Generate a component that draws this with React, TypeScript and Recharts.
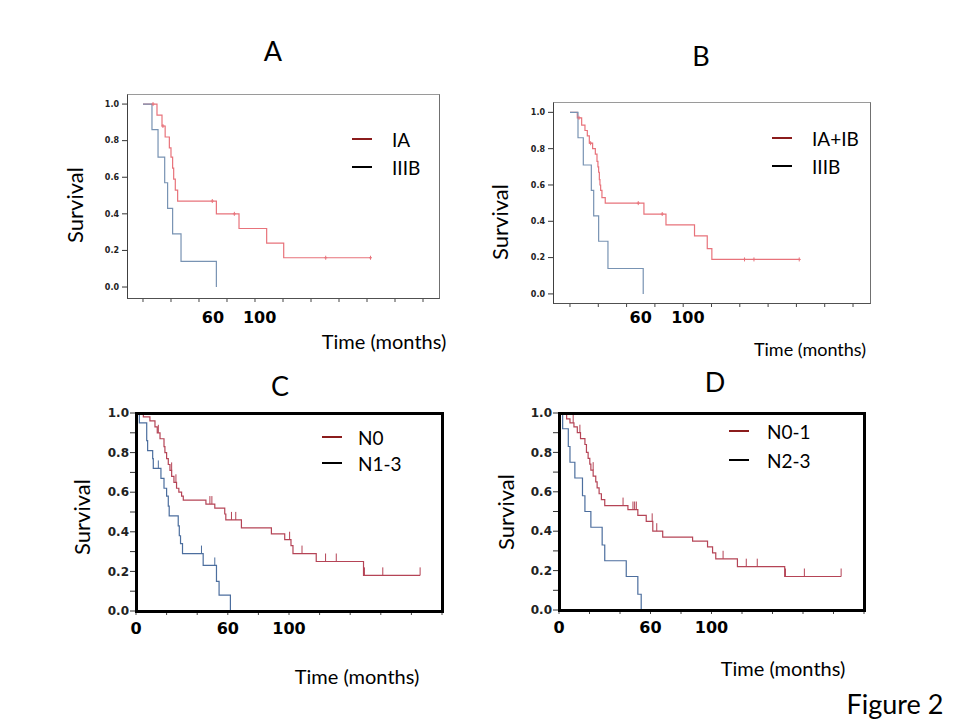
import React from 'react'
import { ComposedChart, Line, Scatter, XAxis, YAxis } from 'recharts'

// ---- Panel A: IA vs IIIB (months / survival) ----
const aIaTime = [0, 12, 16.3, 19, 22.6, 24, 25.4, 26.3, 27.7, 29.7, 62.9, 82.3, 106, 120.6, 195]
const aIaSurv = [1, 0.94, 0.88, 0.82, 0.76, 0.71, 0.65, 0.59, 0.53, 0.47, 0.4, 0.32, 0.24, 0.16, 0.16]
const aIaCensTime = [8.6, 17.1, 59.4, 78.3, 156.6, 195]
const aIaCensSurv = [1, 0.88, 0.47, 0.4, 0.16, 0.16]
const aIIIBTime = [0, 7.7, 12.9, 18.6, 21.1, 25.4, 32.6, 62.9]
const aIIIBSurv = [1, 0.86, 0.71, 0.57, 0.43, 0.29, 0.14, 0]

// ---- Panel B: IA+IB vs IIIB ----
const bIaIbTime = [0, 6.2, 9.9, 12.7, 14.7, 16.4, 19.2, 21.5, 22.9, 23.7, 24.3, 24.9, 25.4, 26, 27.1, 29.9, 62.7, 81.4, 105.6, 116.4, 120.3, 194.4]
const bIaIbSurv = [1, 0.97, 0.93, 0.9, 0.87, 0.83, 0.8, 0.77, 0.73, 0.7, 0.67, 0.63, 0.6, 0.57, 0.53, 0.5, 0.44, 0.38, 0.32, 0.25, 0.19, 0.19]
const bIaIbCensTime = [7.6, 17.5, 57.9, 78.2, 148, 156, 194.4]
const bIaIbCensSurv = [0.97, 0.83, 0.5, 0.44, 0.19, 0.19, 0.19]
const bIIIBTime = [0, 6.8, 11.3, 18.1, 20.1, 24.3, 32.2, 62.1]
const bIIIBSurv = [1, 0.86, 0.71, 0.57, 0.43, 0.29, 0.14, 0]

// ---- Panel C: N0 vs N1-3 ----
const cN0Time = [0, 4.8, 9.1, 12.4, 13.9, 15.7, 18.3, 18.9, 20, 21.1, 22.2, 23.3, 24.8, 26.5, 28, 29.8, 30.9, 45.7, 51.5, 58, 58.7, 68.9, 88.5, 97.2, 101.3, 102.6, 117.8, 148.7, 185.7]
const cN0Surv = [1, 0.98, 0.96, 0.93, 0.9, 0.87, 0.83, 0.8, 0.77, 0.74, 0.71, 0.68, 0.65, 0.62, 0.6, 0.58, 0.56, 0.54, 0.52, 0.49, 0.46, 0.42, 0.39, 0.36, 0.33, 0.29, 0.25, 0.18, 0.18]
const cN0CensTime = [2.6, 4.3, 14.6, 23.3, 26.1, 48.3, 49.6, 62.4, 65.2, 100.4, 108.5, 123.9, 130.9, 149.3, 161.3, 185.7]
const cN0CensSurv = [1, 1, 0.9, 0.71, 0.65, 0.54, 0.54, 0.46, 0.46, 0.36, 0.29, 0.25, 0.25, 0.18, 0.18, 0.18]
const cN13Time = [0, 2.2, 7, 7.6, 10.9, 11.3, 16.3, 18.3, 20, 21.1, 21.7, 27.6, 28.3, 29.1, 30.4, 43.9, 52.6, 54.3, 61.7]
const cN13Surv = [1, 0.95, 0.86, 0.81, 0.77, 0.72, 0.67, 0.62, 0.58, 0.53, 0.48, 0.43, 0.38, 0.34, 0.29, 0.23, 0.15, 0.08, 0]
const cN13CensTime = [14.6, 42.8, 51.5]
const cN13CensSurv = [0.72, 0.29, 0.23]

// ---- Panel D: N0-1 vs N2-3 ----
const dN01Time = [0, 5, 7.2, 9.8, 12, 14.1, 17, 18, 19.1, 20.2, 20.9, 22.4, 24.1, 25, 26.3, 27.8, 30, 45.2, 51.7, 57.2, 61.5, 68, 87.6, 97.4, 100.7, 102.8, 117, 148, 185]
const dN01Surv = [1, 0.97, 0.95, 0.93, 0.9, 0.87, 0.84, 0.8, 0.77, 0.74, 0.71, 0.68, 0.65, 0.62, 0.59, 0.56, 0.53, 0.51, 0.48, 0.45, 0.4, 0.37, 0.35, 0.32, 0.29, 0.26, 0.22, 0.17, 0.17]
const dN01CensTime = [2.2, 9.3, 13.7, 22.4, 42, 48.5, 49.6, 50.7, 61.1, 64.1, 107.6, 122.8, 130, 148.5, 160.9, 185]
const dN01CensSurv = [1, 0.95, 0.9, 0.71, 0.53, 0.51, 0.51, 0.51, 0.45, 0.4, 0.26, 0.22, 0.22, 0.17, 0.17, 0.17]
const dN23Time = [0, 2.4, 6.1, 7.2, 10.4, 15.4, 17, 20.9, 28.3, 30, 44.1, 51.7, 53.9]
const dN23Surv = [1, 0.92, 0.83, 0.75, 0.67, 0.58, 0.5, 0.42, 0.33, 0.25, 0.17, 0.08, 0]

// axis ticks
const ticks24 = [0, 24, 48, 72, 96, 120, 144, 168, 192, 216, 240]
const ticks20 = [0, 20, 40, 60, 80, 100, 120, 140, 160, 180, 200]
const survTicksMajor = [0, 0.2, 0.4, 0.6, 0.8, 1]
const survTicksMinor = [0, 0.1, 0.2, 0.3, 0.4, 0.5, 0.6, 0.7, 0.8, 0.9, 1]
const timeLabelsAB = [60, 100]
const timeLabelsCD = [0, 60, 100]

const FONT = 'Lato, "Open Sans", sans-serif'
const TICK_FONT = '"DejaVu Sans", Verdana, sans-serif'

const RED_LIGHT = '#e8737b'
const BLUE_LIGHT = '#7893b3'
const RED_DARK = '#b54456'
const BLUE_DARK = '#4c6e9e'
const KEY_RED = '#8b1c1c'

type Pt = { t: number; s: number }
const toPts = (t: number[], s: number[]): Pt[] => t.map((x, i) => ({ t: x, s: s[i] }))

interface Curve {
  pts: Pt[]
  cens: Pt[]
  color: string
}

interface PanelProps {
  frame: { l: number; t: number; r: number; b: number }
  xDomain: [number, number]
  xTicks: number[]
  xLabels: number[]
  labelDy: number
  labelSize: number
  yDomain: [number, number]
  yTicks: number[]
  ySize: number
  heavy: boolean
  curves: Curve[]
}

const Y_W = 45
const PAD = 10
const X_H = 34

function Key({ keys, x, y, row, gap }: { keys: { name: string; color: string }[]; x: number; y: number; row: number; gap: number }) {
  return (
    <div style={{ position: 'absolute', left: x, top: y - row / 2, fontFamily: FONT, fontSize: 19, color: '#000' }}>
      {keys.map((k) => (
        <div key={k.name} style={{ display: 'flex', alignItems: 'center', height: row, whiteSpace: 'nowrap' }}>
          <span style={{ display: 'inline-block', width: 20, height: 2, background: k.color, marginRight: gap }} />
          <span>{k.name}</span>
        </div>
      ))}
    </div>
  )
}

function Panel(p: PanelProps) {
  const fw = p.frame.r - p.frame.l
  const fh = p.frame.b - p.frame.t
  const width = Y_W + fw + PAD
  const height = PAD + fh + X_H
  const left = p.frame.l - Y_W
  const top = p.frame.t - PAD

  const allTicks = Array.from(new Set([...p.xTicks, ...p.xLabels])).sort((a, b) => a - b)

  const yFmt = (v: number) => {
    const tenth = Math.round(v * 10)
    return tenth % 2 === 0 ? v.toFixed(1) : ''
  }

  // bottom axis: short tick marks on the grid values, bold text on the labelled values
  const XTick = (props: any) => {
    const { x, y, payload } = props
    const v = payload.value
    return (
      <g>
        {p.xTicks.includes(v) && (
          <line x1={x} x2={x} y1={y} y2={y + 4} stroke="#444" strokeWidth={1} />
        )}
        {p.xLabels.includes(v) && (
          <text
            x={x}
            y={y + p.labelDy}
            textAnchor="middle"
            dominantBaseline="central"
            fontSize={p.labelSize}
            fontWeight={700}
            fontFamily={TICK_FONT}
            fill="#000"
          >
            {v}
          </text>
        )}
      </g>
    )
  }

  const censorShape = (color: string) => (props: any) => {
    const { cx, cy } = props
    if (p.heavy) {
      return <line x1={cx} x2={cx} y1={cy} y2={cy - 8} stroke={color} strokeWidth={1} />
    }
    return (
      <g stroke={color} strokeWidth={1}>
        <line x1={cx} x2={cx} y1={cy - 2} y2={cy + 2} />
        <line x1={cx - 1.5} x2={cx + 1.5} y1={cy} y2={cy} />
      </g>
    )
  }

  // plot frame (box around the plotting area)
  const bw = p.heavy ? 3 : 1
  const frameStyle: React.CSSProperties = {
    position: 'absolute',
    left: p.frame.l - bw / 2,
    top: p.frame.t - bw / 2,
    width: fw + bw,
    height: fh + bw,
    boxSizing: 'border-box',
    borderStyle: 'solid',
    borderWidth: bw,
    borderColor: p.heavy ? '#000' : '#9a9a9a #707070 #505050 #404040',
    pointerEvents: 'none',
  }

  return (
    <>
      <div style={{ position: 'absolute', left, top, width, height }}>
        <ComposedChart width={width} height={height} margin={{ top: PAD, right: PAD, left: 0, bottom: 0 }}>
          <XAxis
            xAxisId="m"
            dataKey="t"
            type="number"
            domain={p.xDomain}
            allowDataOverflow
            ticks={allTicks}
            interval={0}
            tick={<XTick />}
            tickSize={0}
            tickMargin={0}
            tickLine={false}
            height={X_H}
            axisLine={false}
          />
          <YAxis
            yAxisId="y"
            type="number"
            domain={p.yDomain}
            allowDataOverflow
            ticks={p.yTicks}
            interval={0}
            width={Y_W}
            tickSize={p.heavy ? 6 : 5}
            tickMargin={p.heavy ? 1 : 3}
            tickFormatter={yFmt}
            axisLine={false}
            tickLine={{ stroke: '#333', strokeWidth: 1 }}
            tick={{ fontSize: p.ySize, fontWeight: 700, fill: '#222', fontFamily: TICK_FONT }}
          />
          {p.curves.map((c, i) => (
            <Line
              key={`l${i}`}
              xAxisId="m"
              yAxisId="y"
              data={c.pts}
              dataKey="s"
              type="stepAfter"
              stroke={c.color}
              strokeWidth={1.2}
              dot={false}
              activeDot={false}
              isAnimationActive={false}
            />
          ))}
          {p.curves
            .filter((c) => c.cens.length > 0)
            .map((c, i) => (
              <Scatter
                key={`c${i}`}
                xAxisId="m"
                yAxisId="y"
                data={c.cens}
                dataKey="s"
                shape={censorShape(c.color)}
                isAnimationActive={false}
              />
            ))}
        </ComposedChart>
      </div>
      <div style={frameStyle} />
    </>
  )
}

function Txt({ x, y, size, children, rotate }: { x: number; y: number; size: number; children: React.ReactNode; rotate?: boolean }) {
  return (
    <div
      style={{
        position: 'absolute',
        left: x,
        top: y,
        transform: `translate(-50%, -50%)${rotate ? ' rotate(-90deg)' : ''}`,
        fontFamily: FONT,
        fontSize: size,
        color: '#000',
        whiteSpace: 'nowrap',
        lineHeight: 1,
      }}
    >
      {children}
    </div>
  )
}

export default function App() {
  return (
    <div style={{ position: 'absolute', left: 0, top: 0, width: 960, height: 720, background: '#fff', overflow: 'hidden' }}>
      <Panel
        frame={{ l: 127, t: 94, r: 439, b: 298 }}
        xDomain={[-13.7, 253.7]}
        xTicks={ticks24}
        xLabels={timeLabelsAB}
        labelDy={19}
        labelSize={16}
        yDomain={[-0.06, 1.055]}
        yTicks={survTicksMajor}
        ySize={8}
        heavy={false}
        curves={[
          { pts: toPts(aIaTime, aIaSurv), cens: toPts(aIaCensTime, aIaCensSurv), color: RED_LIGHT },
          { pts: toPts(aIIIBTime, aIIIBSurv), cens: [], color: BLUE_LIGHT },
        ]}
      />
      <Panel
        frame={{ l: 553, t: 102, r: 870, b: 303 }}
        xDomain={[-14.4, 254.4]}
        xTicks={ticks24}
        xLabels={timeLabelsAB}
        labelDy={14}
        labelSize={16}
        yDomain={[-0.05, 1.057]}
        yTicks={survTicksMajor}
        ySize={8}
        heavy={false}
        curves={[
          { pts: toPts(bIaIbTime, bIaIbSurv), cens: toPts(bIaIbCensTime, bIaIbCensSurv), color: RED_LIGHT },
          { pts: toPts(bIIIBTime, bIIIBSurv), cens: [], color: BLUE_LIGHT },
        ]}
      />
      <Panel
        frame={{ l: 136, t: 413, r: 442, b: 611 }}
        xDomain={[0, 200]}
        xTicks={ticks20}
        xLabels={timeLabelsCD}
        labelDy={17}
        labelSize={16}
        yDomain={[0, 1]}
        yTicks={survTicksMinor}
        ySize={12}
        heavy
        curves={[
          { pts: toPts(cN0Time, cN0Surv), cens: toPts(cN0CensTime, cN0CensSurv), color: RED_DARK },
          { pts: toPts(cN13Time, cN13Surv), cens: toPts(cN13CensTime, cN13CensSurv), color: BLUE_DARK },
        ]}
      />
      <Panel
        frame={{ l: 559, t: 413, r: 864, b: 610 }}
        xDomain={[0, 200]}
        xTicks={ticks20}
        xLabels={timeLabelsCD}
        labelDy={17}
        labelSize={16}
        yDomain={[0, 1]}
        yTicks={survTicksMinor}
        ySize={12}
        heavy
        curves={[
          { pts: toPts(dN01Time, dN01Surv), cens: toPts(dN01CensTime, dN01CensSurv), color: RED_DARK },
          { pts: toPts(dN23Time, dN23Surv), cens: [], color: BLUE_DARK },
        ]}
      />

      <Txt x={273} y={50} size={27}>A</Txt>
      <Txt x={701} y={55} size={27}>B</Txt>
      <Txt x={280} y={385} size={27}>C</Txt>
      <Txt x={715} y={381} size={27}>D</Txt>

      <Txt x={75} y={205} size={22} rotate>Survival</Txt>
      <Txt x={500} y={222} size={22} rotate>Survival</Txt>
      <Txt x={82} y={517} size={22} rotate>Survival</Txt>
      <Txt x={506} y={512} size={22} rotate>Survival</Txt>

      <Txt x={384} y={341} size={20}>Time (months)</Txt>
      <Txt x={810} y={349} size={18}>Time (months)</Txt>
      <Txt x={357} y={676} size={20}>Time (months)</Txt>
      <Txt x={783} y={668} size={20}>Time (months)</Txt>

      <Txt x={895} y={703} size={27}>Figure 2</Txt>

      <Key keys={[{ name: 'IA', color: KEY_RED }, { name: 'IIIB', color: '#000' }]} x={352} y={139} row={28} gap={20} />
      <Key keys={[{ name: 'IA+IB', color: KEY_RED }, { name: 'IIIB', color: '#000' }]} x={772} y={138} row={28} gap={20} />
      <Key keys={[{ name: 'N0', color: KEY_RED }, { name: 'N1-3', color: '#000' }]} x={322} y={437} row={26} gap={16} />
      <Key keys={[{ name: 'N0-1', color: KEY_RED }, { name: 'N2-3', color: '#000' }]} x={729} y={431} row={29} gap={18} />
    </div>
  )
}
